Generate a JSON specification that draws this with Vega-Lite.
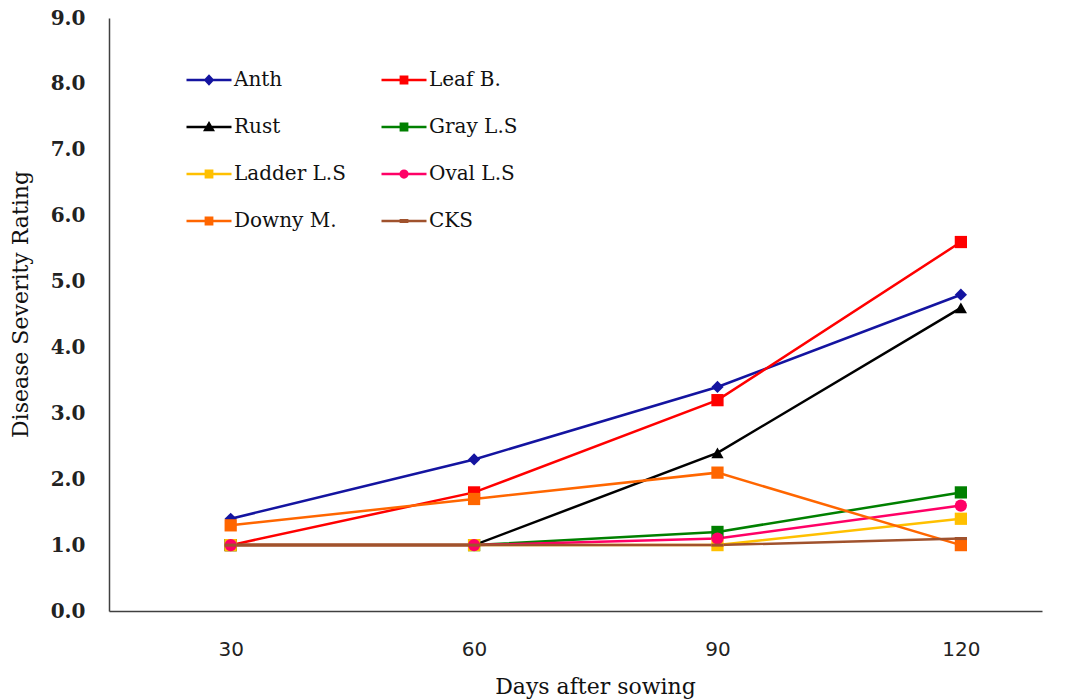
{
  "$schema": "https://vega.github.io/schema/vega-lite/v6.json",
  "width": 933,
  "height": 593,
  "autosize": "none",
  "padding": {"left": 109, "top": 18, "right": 28, "bottom": 89},
  "background": "white",
  "config": {"view": {"stroke": null}},
  "data": {"values": [
    {"d": 30, "v": 1.4, "s": "Anth"}, {"d": 60, "v": 2.3, "s": "Anth"}, {"d": 90, "v": 3.4, "s": "Anth"}, {"d": 120, "v": 4.8, "s": "Anth"},
    {"d": 30, "v": 1.0, "s": "Leaf B."}, {"d": 60, "v": 1.8, "s": "Leaf B."}, {"d": 90, "v": 3.2, "s": "Leaf B."}, {"d": 120, "v": 5.6, "s": "Leaf B."},
    {"d": 30, "v": 1.0, "s": "Rust"}, {"d": 60, "v": 1.0, "s": "Rust"}, {"d": 90, "v": 2.4, "s": "Rust"}, {"d": 120, "v": 4.6, "s": "Rust"},
    {"d": 30, "v": 1.0, "s": "Gray L.S"}, {"d": 60, "v": 1.0, "s": "Gray L.S"}, {"d": 90, "v": 1.2, "s": "Gray L.S"}, {"d": 120, "v": 1.8, "s": "Gray L.S"},
    {"d": 30, "v": 1.0, "s": "Ladder L.S"}, {"d": 60, "v": 1.0, "s": "Ladder L.S"}, {"d": 90, "v": 1.0, "s": "Ladder L.S"}, {"d": 120, "v": 1.4, "s": "Ladder L.S"},
    {"d": 30, "v": 1.0, "s": "Oval L.S"}, {"d": 60, "v": 1.0, "s": "Oval L.S"}, {"d": 90, "v": 1.1, "s": "Oval L.S"}, {"d": 120, "v": 1.6, "s": "Oval L.S"},
    {"d": 30, "v": 1.3, "s": "Downy M."}, {"d": 60, "v": 1.7, "s": "Downy M."}, {"d": 90, "v": 2.1, "s": "Downy M."}, {"d": 120, "v": 1.0, "s": "Downy M."},
    {"d": 30, "v": 1.0, "s": "CKS"}, {"d": 60, "v": 1.0, "s": "CKS"}, {"d": 90, "v": 1.0, "s": "CKS"}, {"d": 120, "v": 1.1, "s": "CKS"}
  ]},
  "encoding": {
    "x": {
      "field": "d", "type": "quantitative",
      "scale": {"domain": [15, 130], "nice": false, "zero": false},
      "axis": {
        "title": "Days after sowing", "values": [30, 60, 90, 120], "grid": false, "ticks": false,
        "domainColor": "#404040", "domainWidth": 1.5,
        "labelFont": "DejaVu Sans", "labelFontSize": 20, "labelColor": "#222222", "labelPadding": 28,
        "titleFont": "DejaVu Serif", "titleFontSize": 22, "titleFontWeight": "normal", "titleColor": "#111111",
        "titleX": 486, "titleY": 75, "titleBaseline": "middle", "titleAlign": "center"
      }
    },
    "y": {
      "field": "v", "type": "quantitative",
      "scale": {"domain": [0, 9], "nice": false},
      "axis": {
        "title": "Disease Severity Rating", "values": [0, 1, 2, 3, 4, 5, 6, 7, 8, 9], "format": ".1f",
        "grid": false, "ticks": false, "domainColor": "#404040", "domainWidth": 1.5,
        "labelFont": "DejaVu Serif", "labelFontSize": 20, "labelFontWeight": "bold", "labelColor": "#222222", "labelPadding": 24,
        "titleFont": "DejaVu Serif", "titleFontSize": 22, "titleFontWeight": "normal", "titleColor": "#111111",
        "titleX": -89, "titleY": 286, "titleBaseline": "middle", "titleAngle": -90
      }
    },
    "color": {
      "field": "s", "type": "nominal",
      "scale": {
        "domain": ["Anth", "Leaf B.", "Rust", "Gray L.S", "Ladder L.S", "Oval L.S", "Downy M.", "CKS"],
        "range": ["#1414A0", "#FF0000", "#000000", "#008000", "#FFC000", "#FF0066", "#FF6600", "#A0522D"]
      },
      "legend": {
        "title": null, "orient": "none", "legendX": 76, "legendY": 38, "columns": 2, "direction": "horizontal",
        "columnPadding": 30, "rowPadding": 13, "symbolSize": 2025, "symbolStrokeWidth": 2.5,
        "labelFont": "DejaVu Serif", "labelFontSize": 20, "labelColor": "#111111", "labelOffset": 1,
        "encode": {
          "symbols": {
            "update": {
              "fill": {"scale": "color", "field": "value"},
              "stroke": {"scale": "color", "field": "value"},
              "fillOpacity": {"value": 1},
              "strokeWidth": {"value": 2.5},
              "size": {"value": 2025},
              "shape": {"signal": "datum.value === 'Anth' ? 'M-1,0H1M0,-0.17L0.16,0L0,0.17L-0.16,0Z' : datum.value === 'Rust' ? 'M-1,0H1M0,-0.16L0.17,0.13H-0.17Z' : datum.value === 'Oval L.S' ? 'M-1,0H1M-0.15,0A0.15,0.15 0 1,0 0.15,0A0.15,0.15 0 1,0 -0.15,0Z' : datum.value === 'CKS' ? 'M-1,0H1M-0.14,-0.035H0.14V0.035H-0.14Z' : 'M-1,0H1M-0.14,-0.14H0.14V0.14H-0.14Z'"}
            }
          }
        }
      }
    }
  },
  "layer": [
    {
      "mark": {"type": "line", "strokeWidth": 2.5},
      "encoding": {}
    },
    {
      "mark": {"type": "point", "filled": true, "opacity": 1, "size": 150},
      "encoding": {
        "shape": {
          "condition": [
            {"test": "datum.s === 'Anth'", "value": "diamond"},
            {"test": "datum.s === 'Rust'", "value": "triangle-up"},
            {"test": "datum.s === 'Oval L.S'", "value": "circle"},
            {"test": "datum.s === 'CKS'", "value": "M-1,-0.25H1V0.25H-1Z"}
          ],
          "value": "square"
        }
      }
    }
  ]
}
